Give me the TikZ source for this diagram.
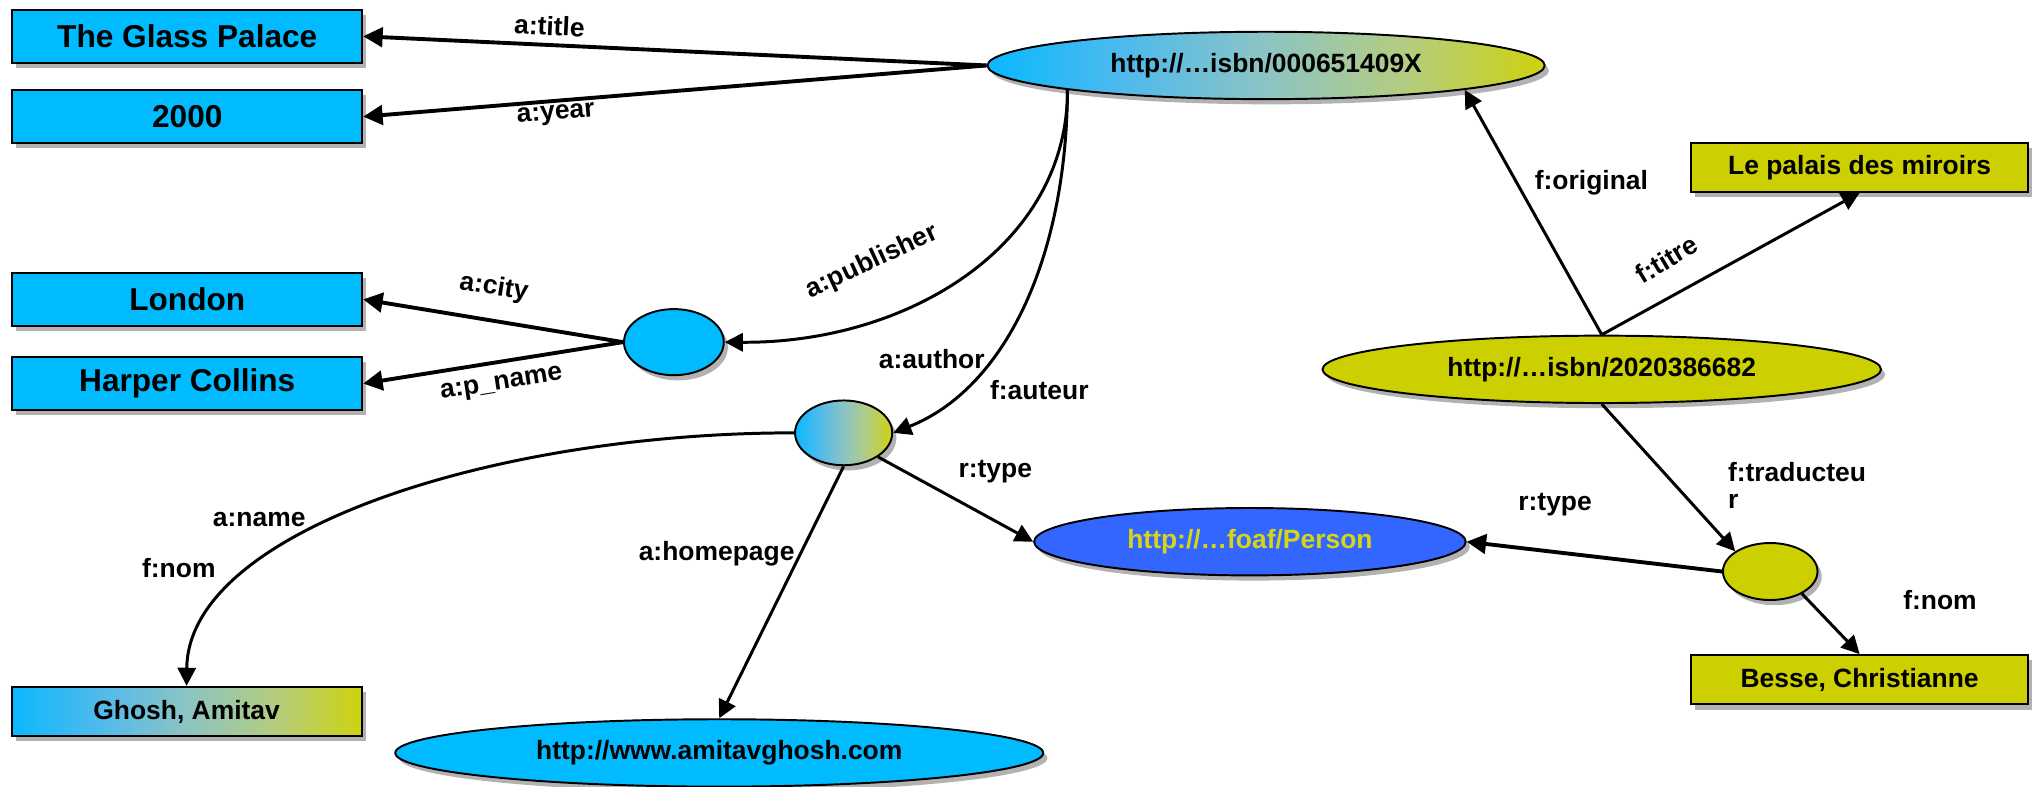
\documentclass[tikz,border=0pt]{standalone}
\usepackage{fontspec}
\setmainfont{Liberation Sans}
\usetikzlibrary{shapes.geometric,shadows,arrows.meta}
\definecolor{skyb}{RGB}{0,187,255}
\definecolor{oliv}{RGB}{204,208,0}
\definecolor{foafb}{RGB}{51,102,255}
\definecolor{foaft}{RGB}{214,214,20}
\definecolor{ga}{RGB}{10,184,255}
\definecolor{gb}{RGB}{80,186,236}
\definecolor{gc}{RGB}{140,196,196}
\definecolor{gd}{RGB}{180,204,128}
\definecolor{ge}{RGB}{206,210,14}
\pgfdeclarehorizontalshading{bluolive}{100bp}{color(0bp)=(ga); color(25bp)=(ga); color(37.5bp)=(gb); color(50bp)=(gc); color(62.5bp)=(gd); color(75bp)=(ge); color(100bp)=(ge)}
\begin{document}
\begin{tikzpicture}[x=0.5pt,y=-0.5pt,
  shd/.style={drop shadow={shadow xshift=1.6pt,shadow yshift=-2pt,opacity=0.3,fill=black}},
  bbox/.style={rectangle,draw=black,line width=0.75pt,inner sep=0pt,font=\fontsize{12.2}{14}\selectfont\bfseries,minimum width=135pt,minimum height=20.5pt,fill=skyb,shd},
  sbox/.style={rectangle,draw=black,line width=0.75pt,inner sep=0pt,font=\fontsize{10.2}{12}\selectfont\bfseries,minimum width=130pt,minimum height=19pt,fill=oliv,shd},
  ell/.style={ellipse,draw=black,line width=0.75pt,inner sep=0pt,font=\fontsize{10.2}{12}\selectfont\bfseries,shd},
  grad/.style={shading=bluolive},
  lbl/.style={font=\fontsize{10.2}{10.5}\selectfont\bfseries,inner sep=0pt},
  thk/.style={line width=1.5pt,-{Triangle[length=7.5pt,width=7.5pt]}},
  thn/.style={line width=1.15pt,-{Triangle[length=7pt,width=7pt]}}]
\useasboundingbox (0,0) rectangle (1568,607);
% nodes
\node[bbox] (gp) at (144.5,28) {The Glass Palace};
\node[bbox] (y2) at (144.5,90) {2000};
\node[bbox] (lon) at (144.5,231) {London};
\node[bbox] (hc) at (144.5,296) {Harper Collins};
\node[sbox,grad,minimum width=135pt] (gh) at (144,549) {Ghosh, Amitav};
\node[sbox] (lp) at (1435,129) {Le palais des miroirs};
\node[sbox] (be) at (1435,524.5) {Besse, Christianne};
\node[ell,grad,minimum width=215pt,minimum height=26pt] (e1) at (977,50.5) {http://…isbn/000651409X};
\node[ell,fill=skyb,minimum width=38.5pt,minimum height=25.5pt] (pb) at (520,264) {};
\node[ell,grad,minimum width=37.5pt,minimum height=25pt] (ab) at (651,334) {};
\node[ell,fill=foafb,text=foaft,minimum width=166.5pt,minimum height=26pt] (foaf) at (964.5,418) {http://…foaf/Person};
\node[ell,fill=skyb,minimum width=250pt,minimum height=26pt] (hp) at (555,581) {http://www.amitavghosh.com};
\node[ell,fill=oliv,minimum width=215.5pt,minimum height=26pt] (i2) at (1236,285) {http://…isbn/2020386682};
\node[ell,fill=oliv,minimum width=36.5pt,minimum height=22pt] (tb) at (1366,441) {};
% labels
\node[lbl,rotate=-2.6] (l1) at (424,20) {a:title};
\node[lbl,rotate=4.7] (l2) at (429,89) {a:year};
\node[lbl,rotate=25] (l3) at (673,202) {a:publisher};
\node[lbl,rotate=-9] (l4) at (381,222) {a:city};
\node[lbl,rotate=9] (l5) at (387,297) {a:p\_name};
\node[lbl] (l6) at (719,277) {a:author};
\node[lbl] (l7) at (802,301) {f:auteur};
\node[lbl] (l8) at (200,401) {a:name};
\node[lbl] (l9) at (138,438) {f:nom};
\node[lbl] (l10) at (553,427) {a:homepage};
\node[lbl] (l11) at (768,364) {r:type};
\node[lbl] (l12) at (1228,141) {f:original};
\node[lbl,rotate=31] (l13) at (1286,200) {f:titre};
\node[lbl,align=left,anchor=north west] (l14) at (1333,356.5) {f:traducteu\\r};
\node[lbl] (l15) at (1200,389) {r:type};
\node[lbl] (l16) at (1497,463) {f:nom};
% connectors
\draw[thk] (e1.west) -- (gp.east);
\draw[thk] (e1.west) -- (y2.east);
\draw[thn] (e1.187) .. controls (824,190) and (700,265) .. (pb.east);
\draw[thn] (e1.187) .. controls (823,200) and (775,300) .. (ab.east);
\draw[thk] (pb.west) -- (lon.east);
\draw[thk] (pb.west) -- (hc.east);
\draw[thn] (ab.west) .. controls (380,334) and (145,410) .. (gh.north);
\draw[thn] (ab.south) -- (hp.north);
\draw[thn] (ab.-35) -- (foaf.west);
\draw[thn] (i2.north) -- (e1.353);
\draw[thn] (i2.north) -- (lp.south);
\draw[thn] (i2.south) -- (tb.150);
\draw[thk] (tb.west) -- (foaf.east);
\draw[thn] (tb.-35) -- (be.north);
\end{tikzpicture}
\end{document}
